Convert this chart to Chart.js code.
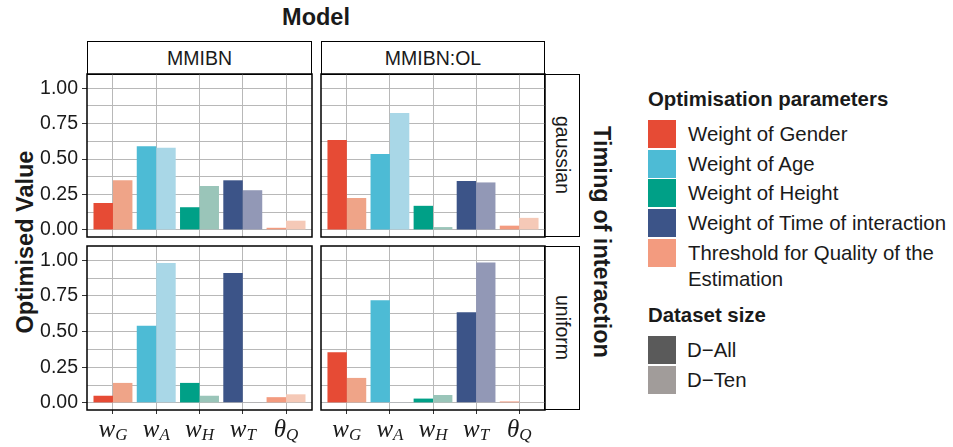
<!DOCTYPE html>
<html>
<head>
<meta charset="utf-8">
<script src="https://cdn.jsdelivr.net/npm/chart.js"></script>
<style>
  body { margin: 0; width: 953px; height: 447px; position: relative; overflow: hidden; background: #fff;
         font-family: "Liberation Sans", Arial, sans-serif; color: #1a1a1a; }
  canvas { position: absolute; }
  .strip { position: absolute; box-sizing: border-box; border: 1.5px solid #000; background: #fff;
           display: flex; align-items: center; justify-content: center; font-size: 19.5px; }
  .vert { writing-mode: vertical-rl; }
  .title { position: absolute; font-weight: bold; font-size: 23.5px; white-space: nowrap; transform: translate(-50%, -50%); }
  .lg-title { position: absolute; font-weight: bold; font-size: 20.4px; white-space: nowrap; }
  .sw { position: absolute; width: 28px; height: 28px; }
  .lg-text { position: absolute; font-size: 20.4px; line-height: 28px; white-space: nowrap; }
</style>
</head>
<body>

<div class="title" style="left:316px;top:17px;">Model</div>
<div class="title vert" style="left:25px;top:242px;transform:translate(-50%,-50%) rotate(180deg);">Optimised Value</div>
<div class="title vert" style="left:601px;top:242px;">Timing of interaction</div>

<div class="strip" style="left:87px;top:41px;width:225px;height:34px;">MMIBN</div>
<div class="strip" style="left:321px;top:41px;width:224px;height:34px;">MMIBN:OL</div>
<div class="strip" style="left:544px;top:74px;width:36px;height:163px;"><span class="vert">gaussian</span></div>
<div class="strip" style="left:544px;top:246px;width:36px;height:164px;"><span class="vert">uniform</span></div>

<canvas id="tl" width="289" height="171" style="left:25px;top:72px;"></canvas>
<canvas id="tr" width="228" height="171" style="left:319px;top:72px;"></canvas>
<canvas id="bl" width="289" height="204" style="left:25px;top:244px;"></canvas>
<canvas id="br" width="228" height="204" style="left:319px;top:244px;"></canvas>

<div id="legend"></div>

<script>
// categories (math labels: main symbol + subscript)
const xMain = ['w', 'w', 'w', 'w', 'θ'];
const xSub = ['G', 'A', 'H', 'T', 'Q'];

const paramNames = ['Weight of Gender', 'Weight of Age', 'Weight of Height',
  'Weight of Time of interaction', 'Threshold for Quality of the<br>Estimation'];
const allColors = ['#E64B35', '#4DBBD5', '#00A087', '#3C5488', '#F39B7F'];
const tenColors = ['#EFA488', '#A9D7E7', '#9AC5B9', '#9298B6', '#F5C9B7'];

const sizeNames = ['D\u2212All', 'D\u2212Ten'];
const sizeColors = ['#5A5A5A', '#A19C9A'];

// values, D-All / D-Ten
const gaussMMIBN_All = [0.19, 0.59, 0.16, 0.35, 0.015];
const gaussMMIBN_Ten = [0.35, 0.58, 0.31, 0.28, 0.065];
const gaussOL_All = [0.635, 0.535, 0.17, 0.345, 0.03];
const gaussOL_Ten = [0.225, 0.825, 0.02, 0.335, 0.085];
const unifMMIBN_All = [0.05, 0.54, 0.14, 0.91, 0.04];
const unifMMIBN_Ten = [0.14, 0.98, 0.05, 0.004, 0.06];
const unifOL_All = [0.355, 0.72, 0.03, 0.635, 0.01];
const unifOL_Ten = [0.175, 0.003, 0.055, 0.985, 0.004];

const yTickValues = [0, 0.25, 0.5, 0.75, 1];
const yTickText = ['0.00', '0.25', '0.50', '0.75', '1.00'];
const yMinorValues = [0.125, 0.375, 0.625, 0.875];

const gridGray = '#b8b8b8';

const panelBorder = {
  id: 'panelBorder',
  afterDraw(chart) {
    const { ctx, chartArea: a } = chart;
    ctx.save();
    ctx.strokeStyle = '#000';
    ctx.lineWidth = 1.5;
    ctx.strokeRect(a.left, a.top, a.right - a.left, a.bottom - a.top);
    ctx.restore();
  }
};

const mathLabels = {
  id: 'mathLabels',
  afterDraw(chart, args, opts) {
    if (!opts.show) return;
    const ctx = chart.ctx;
    const xs = chart.scales.x;
    const base = chart.chartArea.bottom + 27;
    ctx.save();
    ctx.fillStyle = '#1a1a1a';
    ctx.textBaseline = 'alphabetic';
    xMain.forEach((m, i) => {
      const px = xs.getPixelForValue(i);
      ctx.font = 'italic 25px "Liberation Serif"';
      const w1 = ctx.measureText(m).width;
      ctx.font = 'italic 17px "Liberation Serif"';
      const w2 = ctx.measureText(xSub[i]).width;
      const start = px - (w1 + w2) / 2;
      ctx.font = 'italic 25px "Liberation Serif"';
      ctx.fillText(m, start, base);
      ctx.font = 'italic 17px "Liberation Serif"';
      ctx.fillText(xSub[i], start + w1, base + 3);
    });
    ctx.restore();
  }
};

function makePanel(id, allVals, tenVals, showY, showX) {
  const toPts = vals => vals.map((v, i) => ({ x: i, y: v }));
  return new Chart(document.getElementById(id), {
    type: 'bar',
    data: {
      datasets: [
        { label: sizeNames[0], data: toPts(allVals), backgroundColor: allColors,
          barPercentage: 1, categoryPercentage: 0.9 },
        { label: sizeNames[1], data: toPts(tenVals), backgroundColor: tenColors,
          barPercentage: 1, categoryPercentage: 0.9 }
      ]
    },
    options: {
      responsive: false,
      animation: false,
      events: [],
      layout: { padding: { left: 2, right: 2, top: 2, bottom: showX ? 2 : 6 } },
      plugins: { legend: { display: false }, tooltip: { enabled: false }, mathLabels: { show: showX } },
      scales: {
        x: {
          type: 'linear', min: -0.6, max: 4.6, offset: false,
          afterBuildTicks: s => { s.ticks = xMain.map((m, i) => ({ value: i })); },
          afterFit: s => { s.height = showX ? 36 : 0; s.paddingLeft = 0; s.paddingRight = 0; },
          ticks: { display: false },
          grid: { offset: false, color: gridGray, lineWidth: 1, drawTicks: showX, tickLength: 4, tickColor: '#333' },
          border: { display: false }
        },
        y: {
          min: -0.05, max: 1.1,
          afterBuildTicks: s => {
            s.ticks = yTickValues.concat(yMinorValues).sort((a, b) => a - b).map(v => ({ value: v }));
          },
          afterFit: s => { s.width = showY ? 60 : 0; s.paddingTop = 0; s.paddingBottom = 0; },
          ticks: {
            display: showY, autoSkip: false, padding: 4, color: '#1a1a1a',
            font: { family: '"Liberation Sans", Arial, sans-serif', size: 19.5 },
            callback: v => { const i = yTickValues.indexOf(v); return i >= 0 ? yTickText[i] : ''; }
          },
          grid: {
            color: gridGray, lineWidth: 1, drawTicks: showY, tickLength: 5,
            tickColor: c => (c.tick && yTickValues.includes(c.tick.value)) ? '#333' : 'rgba(0,0,0,0)'
          },
          border: { display: false }
        }
      }
    },
    plugins: [panelBorder, mathLabels]
  });
}

makePanel('tl', gaussMMIBN_All, gaussMMIBN_Ten, true, false);
makePanel('tr', gaussOL_All, gaussOL_Ten, false, false);
makePanel('bl', unifMMIBN_All, unifMMIBN_Ten, true, true);
makePanel('br', unifOL_All, unifOL_Ten, false, true);

// legend
const lg = document.getElementById('legend');
let html = '<div class="lg-title" style="left:648px;top:88px;">Optimisation parameters</div>';
paramNames.forEach((n, i) => {
  const top = 120 + i * 29.7;
  html += `<div class="sw" style="left:648px;top:${top}px;background:${allColors[i]}"></div>`;
  const multi = n.includes('<br>');
  html += `<div class="lg-text" style="left:688px;top:${multi ? top + 1 : top}px;${multi ? 'line-height:26px;' : ''}">${n}</div>`;
});
html += '<div class="lg-title" style="left:648px;top:304px;">Dataset size</div>';
sizeNames.forEach((n, i) => {
  const top = 336 + i * 30;
  html += `<div class="sw" style="left:648px;top:${top}px;background:${sizeColors[i]}"></div>`;
  html += `<div class="lg-text" style="left:687px;top:${top}px;">${n}</div>`;
});
lg.innerHTML = html;
</script>
</body>
</html>
